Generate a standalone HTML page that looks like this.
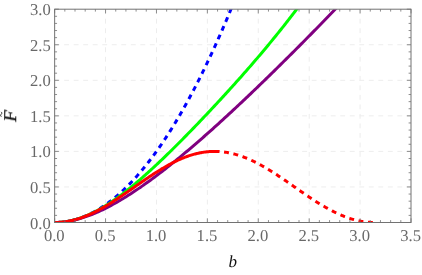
<!DOCTYPE html>
<html><head><meta charset="utf-8"><style>
html,body{margin:0;padding:0;background:#fff;}
svg{display:block;font-family:"Liberation Serif",serif;}
</style></head><body>
<svg width="422" height="275" viewBox="0 0 422 275">

<g stroke="#ededed" stroke-width="1" stroke-dasharray="4.9 4.62" fill="none">
<line x1="105.56" y1="9.20" x2="105.56" y2="222.50"/>
<line x1="156.46" y1="9.20" x2="156.46" y2="222.50"/>
<line x1="207.37" y1="9.20" x2="207.37" y2="222.50"/>
<line x1="258.28" y1="9.20" x2="258.28" y2="222.50"/>
<line x1="309.19" y1="9.20" x2="309.19" y2="222.50"/>
<line x1="360.09" y1="9.20" x2="360.09" y2="222.50"/>
<line x1="54.65" y1="186.95" x2="411.00" y2="186.95"/>
<line x1="54.65" y1="151.40" x2="411.00" y2="151.40"/>
<line x1="54.65" y1="115.85" x2="411.00" y2="115.85"/>
<line x1="54.65" y1="80.30" x2="411.00" y2="80.30"/>
<line x1="54.65" y1="44.75" x2="411.00" y2="44.75"/>
</g>
<defs><clipPath id="c"><rect x="54.65" y="9.20" width="356.35" height="213.80"/></clipPath></defs>
<g fill="none" stroke-width="3.00" stroke-linecap="butt" stroke-linejoin="round" clip-path="url(#c)">
<path d="M54.65 222.50 L55.57 222.49 L56.49 222.48 L57.41 222.45 L58.33 222.41 L59.25 222.35 L60.18 222.29 L61.10 222.21 L62.02 222.13 L62.94 222.03 L63.86 221.92 L64.78 221.80 L65.70 221.66 L66.62 221.52 L67.54 221.36 L68.46 221.19 L69.38 221.01 L70.31 220.82 L71.23 220.62 L72.15 220.40 L73.07 220.17 L73.99 219.93 L74.91 219.68 L75.83 219.42 L76.75 219.15 L77.67 218.86 L78.59 218.57 L79.52 218.26 L80.44 217.94 L81.36 217.61 L82.28 217.26 L83.20 216.91 L84.12 216.54 L85.04 216.17 L85.96 215.78 L86.88 215.37 L87.80 214.96 L88.72 214.54 L89.65 214.10 L90.57 213.65 L91.49 213.19 L92.41 212.72 L93.33 212.24 L94.25 211.74 L95.17 211.24 L96.09 210.72 L97.01 210.19 L97.93 209.65 L98.85 209.10 L99.78 208.53 L100.70 207.96 L101.62 207.37 L102.54 206.77 L103.46 206.16 L104.38 205.54 L105.30 204.90 L106.22 204.26 L107.14 203.60 L108.06 202.93 L108.99 202.25 L109.91 201.56 L110.83 200.85 L111.75 200.14 L112.67 199.41 L113.59 198.67 L114.51 197.92 L115.43 197.16 L116.35 196.39 L117.27 195.60 L118.19 194.80 L119.12 194.00 L120.04 193.18 L120.96 192.34 L121.88 191.50 L122.80 190.65 L123.72 189.78 L124.64 188.90 L125.56 188.01 L126.48 187.11 L127.40 186.20 L128.32 185.27 L129.25 184.33 L130.17 183.39 L131.09 182.43 L132.01 181.45 L132.93 180.47 L133.85 179.48 L134.77 178.47 L135.69 177.45 L136.61 176.42 L137.53 175.38 L138.45 174.33 L139.38 173.26 L140.30 172.19 L141.22 171.10 L142.14 170.00 L143.06 168.89 L143.98 167.77 L144.90 166.63 L145.82 165.49 L146.74 164.33 L147.66 163.16 L148.59 161.98 L149.51 160.79 L150.43 159.58 L151.35 158.37 L152.27 157.14 L153.19 155.90 L154.11 154.65 L155.03 153.39 L155.95 152.11 L156.87 150.83 L157.79 149.53 L158.72 148.22 L159.64 146.90 L160.56 145.57 L161.48 144.22 L162.40 142.87 L163.32 141.50 L164.24 140.12 L165.16 138.73 L166.08 137.33 L167.00 135.92 L167.92 134.49 L168.85 133.06 L169.77 131.61 L170.69 130.15 L171.61 128.68 L172.53 127.19 L173.45 125.70 L174.37 124.19 L175.29 122.67 L176.21 121.14 L177.13 119.60 L178.06 118.05 L178.98 116.48 L179.90 114.91 L180.82 113.32 L181.74 111.72 L182.66 110.11 L183.58 108.48 L184.50 106.85 L185.42 105.20 L186.34 103.55 L187.26 101.88 L188.19 100.19 L189.11 98.50 L190.03 96.80 L190.95 95.08 L191.87 93.35 L192.79 91.61 L193.71 89.86 L194.63 88.10 L195.55 86.33 L196.47 84.54 L197.39 82.74 L198.32 80.93 L199.24 79.11 L200.16 77.28 L201.08 75.44 L202.00 73.58 L202.92 71.71 L203.84 69.84 L204.76 67.94 L205.68 66.04 L206.60 64.13 L207.52 62.20 L208.45 60.27 L209.37 58.32 L210.29 56.36 L211.21 54.39 L212.13 52.40 L213.05 50.41 L213.97 48.40 L214.89 46.38 L215.81 44.35 L216.73 42.31 L217.66 40.26 L218.58 38.19 L219.50 36.11 L220.42 34.03 L221.34 31.93 L222.26 29.81 L223.18 27.69 L224.10 25.56 L225.02 23.41 L225.94 21.25 L226.86 19.08 L227.79 16.90 L228.71 14.71 L229.63 12.50 L230.55 10.29 L231.47 8.06 L232.39 5.82 L233.31 3.57 L234.23 1.30 L235.15 -0.97 L236.07 -3.26 L236.99 -5.55 L237.92 -7.86" stroke="#0000ff" stroke-dasharray="4.9 4.62" stroke-dashoffset="0"/>
<path d="M54.65 222.50 L55.91 222.49 L57.16 222.46 L58.42 222.40 L59.68 222.33 L60.94 222.23 L62.19 222.11 L63.45 221.97 L64.71 221.81 L65.96 221.62 L67.22 221.42 L68.48 221.19 L69.74 220.94 L70.99 220.67 L72.25 220.38 L73.51 220.07 L74.76 219.74 L76.02 219.39 L77.28 219.02 L78.54 218.63 L79.79 218.21 L81.05 217.78 L82.31 217.33 L83.57 216.86 L84.82 216.37 L86.08 215.86 L87.34 215.33 L88.59 214.78 L89.85 214.22 L91.11 213.63 L92.37 213.03 L93.62 212.41 L94.88 211.78 L96.14 211.12 L97.39 210.45 L98.65 209.77 L99.91 209.06 L101.17 208.34 L102.42 207.61 L103.68 206.86 L104.94 206.09 L106.19 205.31 L107.45 204.52 L108.71 203.71 L109.97 202.88 L111.22 202.04 L112.48 201.19 L113.74 200.33 L114.99 199.45 L116.25 198.56 L117.51 197.66 L118.77 196.74 L120.02 195.81 L121.28 194.87 L122.54 193.92 L123.79 192.96 L125.05 191.99 L126.31 191.00 L127.57 190.01 L128.82 189.00 L130.08 187.99 L131.34 186.96 L132.60 185.93 L133.85 184.89 L135.11 183.83 L136.37 182.77 L137.62 181.70 L138.88 180.62 L140.14 179.54 L141.40 178.44 L142.65 177.34 L143.91 176.23 L145.17 175.11 L146.42 173.99 L147.68 172.86 L148.94 171.72 L150.20 170.57 L151.45 169.42 L152.71 168.26 L153.97 167.10 L155.22 165.93 L156.48 164.75 L157.74 163.57 L159.00 162.38 L160.25 161.19 L161.51 159.99 L162.77 158.79 L164.02 157.58 L165.28 156.37 L166.54 155.15 L167.80 153.93 L169.05 152.70 L170.31 151.47 L171.57 150.24 L172.82 149.00 L174.08 147.75 L175.34 146.50 L176.60 145.25 L177.85 144.00 L179.11 142.74 L180.37 141.47 L181.63 140.21 L182.88 138.94 L184.14 137.66 L185.40 136.38 L186.65 135.10 L187.91 133.82 L189.17 132.53 L190.43 131.24 L191.68 129.95 L192.94 128.65 L194.20 127.35 L195.45 126.05 L196.71 124.74 L197.97 123.43 L199.23 122.12 L200.48 120.80 L201.74 119.48 L203.00 118.16 L204.25 116.84 L205.51 115.51 L206.77 114.18 L208.03 112.85 L209.28 111.51 L210.54 110.17 L211.80 108.83 L213.05 107.49 L214.31 106.14 L215.57 104.79 L216.83 103.44 L218.08 102.08 L219.34 100.72 L220.60 99.36 L221.85 97.99 L223.11 96.62 L224.37 95.25 L225.63 93.88 L226.88 92.50 L228.14 91.12 L229.40 89.74 L230.66 88.35 L231.91 86.96 L233.17 85.56 L234.43 84.17 L235.68 82.76 L236.94 81.36 L238.20 79.95 L239.46 78.54 L240.71 77.13 L241.97 75.71 L243.23 74.28 L244.48 72.86 L245.74 71.43 L247.00 69.99 L248.26 68.55 L249.51 67.11 L250.77 65.67 L252.03 64.22 L253.28 62.76 L254.54 61.30 L255.80 59.84 L257.06 58.37 L258.31 56.89 L259.57 55.42 L260.83 53.93 L262.08 52.45 L263.34 50.95 L264.60 49.46 L265.86 47.95 L267.11 46.45 L268.37 44.93 L269.63 43.41 L270.88 41.89 L272.14 40.36 L273.40 38.82 L274.66 37.28 L275.91 35.74 L277.17 34.18 L278.43 32.62 L279.69 31.06 L280.94 29.48 L282.20 27.90 L283.46 26.32 L284.71 24.73 L285.97 23.13 L287.23 21.52 L288.49 19.91 L289.74 18.29 L291.00 16.66 L292.26 15.02 L293.51 13.38 L294.77 11.73 L296.03 10.07 L297.29 8.40 L298.54 6.72 L299.80 5.04 L301.06 3.35 L302.31 1.65 L303.57 -0.06 L304.83 -1.78" stroke="#00ff00"/>
<path d="M54.65 222.50 L56.10 222.49 L57.55 222.44 L59.00 222.37 L60.45 222.28 L61.91 222.15 L63.36 222.00 L64.81 221.82 L66.26 221.62 L67.71 221.40 L69.16 221.15 L70.61 220.88 L72.06 220.58 L73.51 220.26 L74.97 219.92 L76.42 219.56 L77.87 219.17 L79.32 218.77 L80.77 218.34 L82.22 217.90 L83.67 217.43 L85.12 216.95 L86.57 216.45 L88.03 215.93 L89.48 215.39 L90.93 214.83 L92.38 214.25 L93.83 213.66 L95.28 213.05 L96.73 212.43 L98.18 211.78 L99.63 211.13 L101.09 210.45 L102.54 209.77 L103.99 209.06 L105.44 208.35 L106.89 207.61 L108.34 206.87 L109.79 206.11 L111.24 205.33 L112.70 204.55 L114.15 203.75 L115.60 202.94 L117.05 202.11 L118.50 201.27 L119.95 200.42 L121.40 199.56 L122.85 198.69 L124.30 197.81 L125.76 196.91 L127.21 196.00 L128.66 195.09 L130.11 194.16 L131.56 193.22 L133.01 192.27 L134.46 191.32 L135.91 190.35 L137.36 189.37 L138.82 188.38 L140.27 187.39 L141.72 186.38 L143.17 185.37 L144.62 184.34 L146.07 183.31 L147.52 182.27 L148.97 181.22 L150.42 180.17 L151.88 179.10 L153.33 178.03 L154.78 176.95 L156.23 175.86 L157.68 174.77 L159.13 173.67 L160.58 172.56 L162.03 171.44 L163.48 170.32 L164.94 169.19 L166.39 168.05 L167.84 166.91 L169.29 165.76 L170.74 164.60 L172.19 163.44 L173.64 162.27 L175.09 161.10 L176.54 159.92 L178.00 158.73 L179.45 157.54 L180.90 156.34 L182.35 155.14 L183.80 153.93 L185.25 152.72 L186.70 151.50 L188.15 150.27 L189.60 149.05 L191.06 147.81 L192.51 146.57 L193.96 145.33 L195.41 144.08 L196.86 142.83 L198.31 141.57 L199.76 140.31 L201.21 139.04 L202.67 137.77 L204.12 136.50 L205.57 135.22 L207.02 133.93 L208.47 132.65 L209.92 131.36 L211.37 130.06 L212.82 128.76 L214.27 127.46 L215.73 126.15 L217.18 124.84 L218.63 123.53 L220.08 122.21 L221.53 120.89 L222.98 119.56 L224.43 118.23 L225.88 116.90 L227.33 115.57 L228.79 114.23 L230.24 112.89 L231.69 111.54 L233.14 110.19 L234.59 108.84 L236.04 107.49 L237.49 106.13 L238.94 104.77 L240.39 103.41 L241.85 102.04 L243.30 100.67 L244.75 99.30 L246.20 97.93 L247.65 96.55 L249.10 95.17 L250.55 93.79 L252.00 92.40 L253.45 91.01 L254.91 89.62 L256.36 88.23 L257.81 86.83 L259.26 85.43 L260.71 84.03 L262.16 82.63 L263.61 81.22 L265.06 79.82 L266.51 78.41 L267.97 76.99 L269.42 75.58 L270.87 74.16 L272.32 72.74 L273.77 71.32 L275.22 69.89 L276.67 68.47 L278.12 67.04 L279.57 65.61 L281.03 64.18 L282.48 62.74 L283.93 61.30 L285.38 59.87 L286.83 58.42 L288.28 56.98 L289.73 55.54 L291.18 54.09 L292.64 52.64 L294.09 51.19 L295.54 49.73 L296.99 48.28 L298.44 46.82 L299.89 45.36 L301.34 43.90 L302.79 42.44 L304.24 40.97 L305.70 39.51 L307.15 38.04 L308.60 36.57 L310.05 35.09 L311.50 33.62 L312.95 32.14 L314.40 30.66 L315.85 29.18 L317.30 27.70 L318.76 26.22 L320.21 24.73 L321.66 23.25 L323.11 21.76 L324.56 20.27 L326.01 18.77 L327.46 17.28 L328.91 15.78 L330.36 14.29 L331.82 12.79 L333.27 11.29 L334.72 9.78 L336.17 8.28 L337.62 6.77 L339.07 5.26 L340.52 3.75 L341.97 2.24 L343.42 0.73" stroke="#800080"/>
<path d="M54.65 222.50 L55.48 222.50 L56.30 222.48 L57.13 222.46 L57.96 222.43 L58.78 222.38 L59.61 222.33 L60.44 222.27 L61.26 222.20 L62.09 222.12 L62.92 222.03 L63.74 221.93 L64.57 221.83 L65.40 221.71 L66.22 221.59 L67.05 221.45 L67.88 221.31 L68.71 221.15 L69.53 220.99 L70.36 220.82 L71.19 220.64 L72.01 220.45 L72.84 220.25 L73.67 220.05 L74.49 219.83 L75.32 219.61 L76.15 219.38 L76.97 219.14 L77.80 218.89 L78.63 218.63 L79.45 218.36 L80.28 218.09 L81.11 217.81 L81.93 217.52 L82.76 217.22 L83.59 216.91 L84.41 216.59 L85.24 216.27 L86.07 215.94 L86.89 215.60 L87.72 215.26 L88.55 214.91 L89.37 214.55 L90.20 214.18 L91.03 213.80 L91.86 213.42 L92.68 213.03 L93.51 212.64 L94.34 212.23 L95.16 211.82 L95.99 211.41 L96.82 210.99 L97.64 210.56 L98.47 210.12 L99.30 209.68 L100.12 209.24 L100.95 208.78 L101.78 208.32 L102.60 207.86 L103.43 207.39 L104.26 206.92 L105.08 206.44 L105.91 205.95 L106.74 205.46 L107.56 204.96 L108.39 204.46 L109.22 203.96 L110.04 203.45 L110.87 202.94 L111.70 202.42 L112.52 201.90 L113.35 201.37 L114.18 200.84 L115.01 200.31 L115.83 199.77 L116.66 199.23 L117.49 198.69 L118.31 198.14 L119.14 197.59 L119.97 197.04 L120.79 196.48 L121.62 195.93 L122.45 195.37 L123.27 194.81 L124.10 194.24 L124.93 193.67 L125.75 193.11 L126.58 192.54 L127.41 191.97 L128.23 191.39 L129.06 190.82 L129.89 190.25 L130.71 189.67 L131.54 189.10 L132.37 188.52 L133.19 187.94 L134.02 187.36 L134.85 186.79 L135.67 186.21 L136.50 185.63 L137.33 185.06 L138.15 184.48 L138.98 183.90 L139.81 183.33 L140.64 182.76 L141.46 182.18 L142.29 181.61 L143.12 181.04 L143.94 180.47 L144.77 179.91 L145.60 179.34 L146.42 178.78 L147.25 178.22 L148.08 177.66 L148.90 177.10 L149.73 176.55 L150.56 176.00 L151.38 175.45 L152.21 174.91 L153.04 174.36 L153.86 173.83 L154.69 173.29 L155.52 172.76 L156.34 172.23 L157.17 171.71 L158.00 171.19 L158.82 170.67 L159.65 170.16 L160.48 169.66 L161.30 169.15 L162.13 168.66 L162.96 168.16 L163.79 167.68 L164.61 167.19 L165.44 166.72 L166.27 166.24 L167.09 165.78 L167.92 165.32 L168.75 164.86 L169.57 164.41 L170.40 163.97 L171.23 163.53 L172.05 163.10 L172.88 162.67 L173.71 162.26 L174.53 161.84 L175.36 161.44 L176.19 161.04 L177.01 160.65 L177.84 160.26 L178.67 159.89 L179.49 159.51 L180.32 159.15 L181.15 158.79 L181.97 158.45 L182.80 158.10 L183.63 157.77 L184.45 157.44 L185.28 157.13 L186.11 156.82 L186.94 156.51 L187.76 156.22 L188.59 155.93 L189.42 155.66 L190.24 155.39 L191.07 155.12 L191.90 154.87 L192.72 154.63 L193.55 154.39 L194.38 154.16 L195.20 153.94 L196.03 153.73 L196.86 153.53 L197.68 153.34 L198.51 153.16 L199.34 152.98 L200.16 152.82 L200.99 152.66 L201.82 152.51 L202.64 152.37 L203.47 152.24 L204.30 152.12 L205.12 152.01 L205.95 151.91 L206.78 151.82 L207.60 151.73 L208.43 151.66 L209.26 151.59 L210.08 151.54 L210.91 151.49 L211.74 151.46 L212.57 151.43 L213.39 151.41 L214.22 151.40 L215.05 151.40 L215.87 151.41 L216.70 151.43 L217.53 151.46 L218.35 151.50 L219.18 151.55" stroke="#ff0000"/>
<path d="M214.58 151.40 L215.38 151.40 L216.19 151.42 L216.99 151.44 L217.79 151.47 L218.60 151.51 L219.40 151.56 L220.21 151.62 L221.01 151.68 L221.81 151.76 L222.62 151.84 L223.42 151.93 L224.22 152.04 L225.03 152.15 L225.83 152.26 L226.63 152.39 L227.44 152.53 L228.24 152.67 L229.05 152.83 L229.85 152.99 L230.65 153.16 L231.46 153.34 L232.26 153.52 L233.06 153.72 L233.87 153.92 L234.67 154.13 L235.47 154.35 L236.28 154.58 L237.08 154.82 L237.89 155.06 L238.69 155.31 L239.49 155.57 L240.30 155.84 L241.10 156.12 L241.90 156.40 L242.71 156.69 L243.51 156.99 L244.32 157.29 L245.12 157.61 L245.92 157.93 L246.73 158.26 L247.53 158.59 L248.33 158.93 L249.14 159.28 L249.94 159.64 L250.74 160.00 L251.55 160.37 L252.35 160.75 L253.16 161.13 L253.96 161.52 L254.76 161.91 L255.57 162.31 L256.37 162.72 L257.17 163.13 L257.98 163.55 L258.78 163.98 L259.58 164.41 L260.39 164.85 L261.19 165.29 L262.00 165.74 L262.80 166.19 L263.60 166.65 L264.41 167.11 L265.21 167.58 L266.01 168.05 L266.82 168.53 L267.62 169.01 L268.43 169.50 L269.23 169.99 L270.03 170.49 L270.84 170.99 L271.64 171.49 L272.44 172.00 L273.25 172.51 L274.05 173.02 L274.85 173.54 L275.66 174.06 L276.46 174.59 L277.27 175.11 L278.07 175.64 L278.87 176.18 L279.68 176.71 L280.48 177.25 L281.28 177.79 L282.09 178.34 L282.89 178.88 L283.69 179.43 L284.50 179.98 L285.30 180.53 L286.11 181.08 L286.91 181.64 L287.71 182.19 L288.52 182.75 L289.32 183.31 L290.12 183.87 L290.93 184.43 L291.73 184.99 L292.54 185.55 L293.34 186.11 L294.14 186.67 L294.95 187.23 L295.75 187.79 L296.55 188.35 L297.36 188.91 L298.16 189.47 L298.96 190.03 L299.77 190.59 L300.57 191.15 L301.38 191.71 L302.18 192.26 L302.98 192.82 L303.79 193.37 L304.59 193.92 L305.39 194.47 L306.20 195.02 L307.00 195.56 L307.80 196.11 L308.61 196.65 L309.41 197.19 L310.22 197.72 L311.02 198.26 L311.82 198.79 L312.63 199.31 L313.43 199.84 L314.23 200.36 L315.04 200.88 L315.84 201.39 L316.65 201.90 L317.45 202.41 L318.25 202.91 L319.06 203.41 L319.86 203.91 L320.66 204.40 L321.47 204.89 L322.27 205.37 L323.07 205.85 L323.88 206.32 L324.68 206.79 L325.49 207.25 L326.29 207.71 L327.09 208.16 L327.90 208.61 L328.70 209.05 L329.50 209.49 L330.31 209.92 L331.11 210.35 L331.91 210.77 L332.72 211.18 L333.52 211.59 L334.33 211.99 L335.13 212.38 L335.93 212.77 L336.74 213.15 L337.54 213.53 L338.34 213.90 L339.15 214.26 L339.95 214.62 L340.76 214.97 L341.56 215.31 L342.36 215.64 L343.17 215.97 L343.97 216.29 L344.77 216.61 L345.58 216.91 L346.38 217.21 L347.18 217.50 L347.99 217.78 L348.79 218.06 L349.60 218.33 L350.40 218.59 L351.20 218.84 L352.01 219.08 L352.81 219.32 L353.61 219.55 L354.42 219.77 L355.22 219.98 L356.02 220.18 L356.83 220.38 L357.63 220.56 L358.44 220.74 L359.24 220.91 L360.04 221.07 L360.85 221.23 L361.65 221.37 L362.45 221.51 L363.26 221.64 L364.06 221.75 L364.87 221.86 L365.67 221.97 L366.47 222.06 L367.28 222.14 L368.08 222.22 L368.88 222.28 L369.69 222.34 L370.49 222.39 L371.29 222.43 L372.10 222.46 L372.90 222.48 L373.71 222.50 L374.51 222.50" stroke="#ff0000" stroke-dasharray="4.9 4.62"/>
</g>
<g fill="none" stroke="#727272" stroke-width="1">
<rect x="54.65" y="9.20" width="356.35" height="213.30"/>
<path d="M54.65 222.50v-4.20M54.65 9.20v4.20M64.83 222.50v-2.40M64.83 9.20v2.40M75.01 222.50v-2.40M75.01 9.20v2.40M85.19 222.50v-2.40M85.19 9.20v2.40M95.38 222.50v-2.40M95.38 9.20v2.40M105.56 222.50v-4.20M105.56 9.20v4.20M115.74 222.50v-2.40M115.74 9.20v2.40M125.92 222.50v-2.40M125.92 9.20v2.40M136.10 222.50v-2.40M136.10 9.20v2.40M146.28 222.50v-2.40M146.28 9.20v2.40M156.46 222.50v-4.20M156.46 9.20v4.20M166.65 222.50v-2.40M166.65 9.20v2.40M176.83 222.50v-2.40M176.83 9.20v2.40M187.01 222.50v-2.40M187.01 9.20v2.40M197.19 222.50v-2.40M197.19 9.20v2.40M207.37 222.50v-4.20M207.37 9.20v4.20M217.55 222.50v-2.40M217.55 9.20v2.40M227.73 222.50v-2.40M227.73 9.20v2.40M237.92 222.50v-2.40M237.92 9.20v2.40M248.10 222.50v-2.40M248.10 9.20v2.40M258.28 222.50v-4.20M258.28 9.20v4.20M268.46 222.50v-2.40M268.46 9.20v2.40M278.64 222.50v-2.40M278.64 9.20v2.40M288.82 222.50v-2.40M288.82 9.20v2.40M299.00 222.50v-2.40M299.00 9.20v2.40M309.19 222.50v-4.20M309.19 9.20v4.20M319.37 222.50v-2.40M319.37 9.20v2.40M329.55 222.50v-2.40M329.55 9.20v2.40M339.73 222.50v-2.40M339.73 9.20v2.40M349.91 222.50v-2.40M349.91 9.20v2.40M360.09 222.50v-4.20M360.09 9.20v4.20M370.27 222.50v-2.40M370.27 9.20v2.40M380.46 222.50v-2.40M380.46 9.20v2.40M390.64 222.50v-2.40M390.64 9.20v2.40M400.82 222.50v-2.40M400.82 9.20v2.40M411.00 222.50v-4.20M411.00 9.20v4.20M54.65 222.50h4.20M411.00 222.50h-4.20M54.65 215.39h2.40M411.00 215.39h-2.40M54.65 208.28h2.40M411.00 208.28h-2.40M54.65 201.17h2.40M411.00 201.17h-2.40M54.65 194.06h2.40M411.00 194.06h-2.40M54.65 186.95h4.20M411.00 186.95h-4.20M54.65 179.84h2.40M411.00 179.84h-2.40M54.65 172.73h2.40M411.00 172.73h-2.40M54.65 165.62h2.40M411.00 165.62h-2.40M54.65 158.51h2.40M411.00 158.51h-2.40M54.65 151.40h4.20M411.00 151.40h-4.20M54.65 144.29h2.40M411.00 144.29h-2.40M54.65 137.18h2.40M411.00 137.18h-2.40M54.65 130.07h2.40M411.00 130.07h-2.40M54.65 122.96h2.40M411.00 122.96h-2.40M54.65 115.85h4.20M411.00 115.85h-4.20M54.65 108.74h2.40M411.00 108.74h-2.40M54.65 101.63h2.40M411.00 101.63h-2.40M54.65 94.52h2.40M411.00 94.52h-2.40M54.65 87.41h2.40M411.00 87.41h-2.40M54.65 80.30h4.20M411.00 80.30h-4.20M54.65 73.19h2.40M411.00 73.19h-2.40M54.65 66.08h2.40M411.00 66.08h-2.40M54.65 58.97h2.40M411.00 58.97h-2.40M54.65 51.86h2.40M411.00 51.86h-2.40M54.65 44.75h4.20M411.00 44.75h-4.20M54.65 37.64h2.40M411.00 37.64h-2.40M54.65 30.53h2.40M411.00 30.53h-2.40M54.65 23.42h2.40M411.00 23.42h-2.40M54.65 16.31h2.40M411.00 16.31h-2.40M54.65 9.20h4.20M411.00 9.20h-4.20" stroke-width="0.8"/>
</g>
<g fill="#686868" font-size="16.6px" style="will-change:opacity;text-rendering:geometricPrecision">
<text x="54.25" y="241.3" text-anchor="middle">0.0</text>
<text x="105.16" y="241.3" text-anchor="middle">0.5</text>
<text x="156.06" y="241.3" text-anchor="middle">1.0</text>
<text x="206.97" y="241.3" text-anchor="middle">1.5</text>
<text x="257.88" y="241.3" text-anchor="middle">2.0</text>
<text x="308.79" y="241.3" text-anchor="middle">2.5</text>
<text x="359.69" y="241.3" text-anchor="middle">3.0</text>
<text x="410.60" y="241.3" text-anchor="middle">3.5</text>
<text x="50.8" y="228.50" text-anchor="end">0.0</text>
<text x="50.8" y="192.95" text-anchor="end">0.5</text>
<text x="50.8" y="157.40" text-anchor="end">1.0</text>
<text x="50.8" y="121.85" text-anchor="end">1.5</text>
<text x="50.8" y="86.30" text-anchor="end">2.0</text>
<text x="50.8" y="50.75" text-anchor="end">2.5</text>
<text x="50.8" y="15.20" text-anchor="end">3.0</text>
</g>
<g style="will-change:opacity;text-rendering:geometricPrecision"><text x="232.8" y="266.6" text-anchor="middle" font-style="italic" font-size="17px" fill="#111">b</text>
<g transform="translate(16.0,115.8) rotate(-90) scale(1.07,1)"><text x="0" y="0" text-anchor="middle" font-style="italic" font-size="18px" fill="#111" stroke="#111" stroke-width="0.25">F</text></g></g>
<path d="M1.3 116.7C0.1 115.6 0.7 114.7 1.2 114.25C1.7 113.8 2.3 112.9 1.1 111.9" fill="none" stroke="#111" stroke-width="0.9"/>
</svg>
</body></html>
